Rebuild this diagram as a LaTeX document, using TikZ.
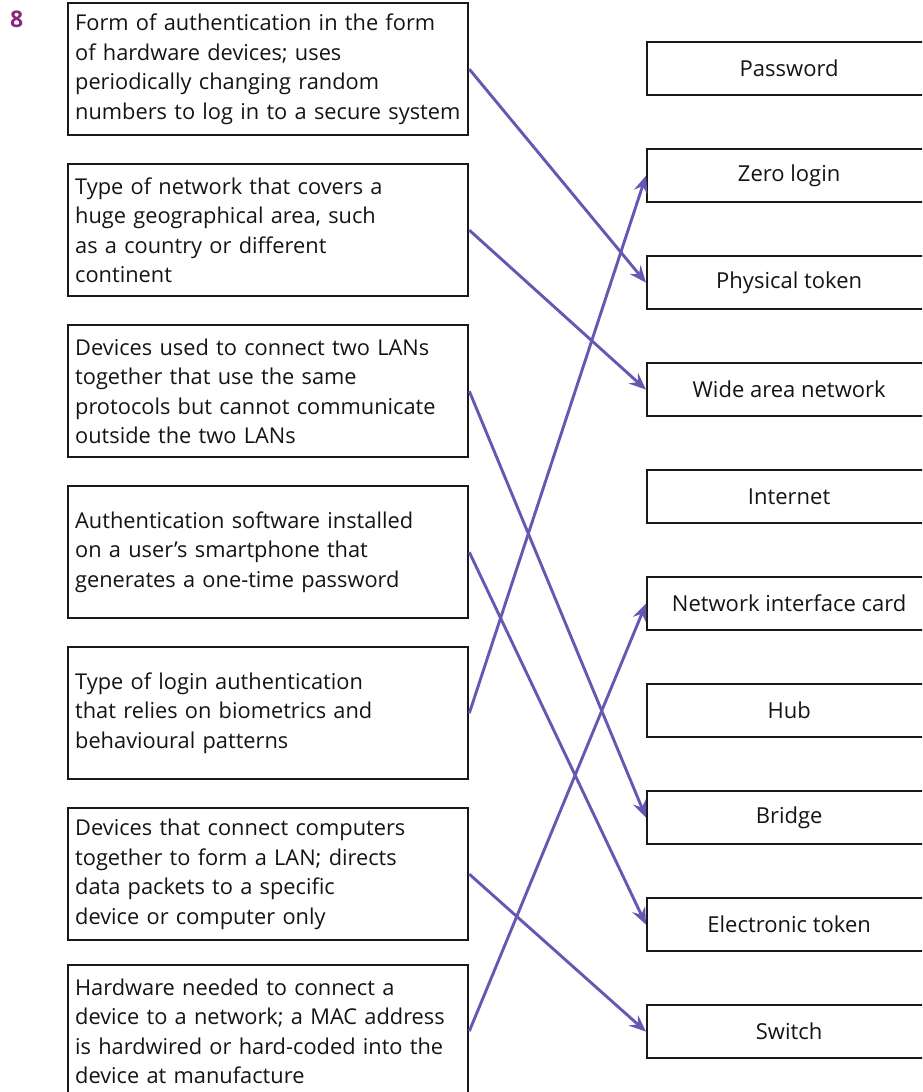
\documentclass[tikz,border=0pt]{standalone}
\usepackage{fontspec}
\setmainfont{Open Sans}
\usetikzlibrary{arrows.meta}
\definecolor{linkblue}{RGB}{104,86,178}
\definecolor{qpurple}{RGB}{138,38,128}
\definecolor{boxline}{RGB}{25,25,25}
\newcommand\nobreakwords{\hyphenpenalty=10000\relax\exhyphenpenalty=10000\relax}
\tikzset{
  clue/.style={draw=boxline, line width=2.3pt, text width=386pt, inner xsep=7pt, inner ysep=0pt,
    minimum height=132pt, align=left, anchor=north west,
    font=\fontsize{21.8}{29.5}\selectfont\nobreakwords, text=black!92},
  term/.style={draw=boxline, line width=2.3pt, minimum width=284pt, minimum height=53pt,
    inner sep=0pt, anchor=north west, font=\fontsize{22}{29.5}\selectfont, text=black!92},
  link/.style={draw=linkblue, line width=2.9pt, -{Stealth[length=17pt, width=14pt, inset=6pt]}},
}
\begin{document}
\begin{tikzpicture}[x=1pt, y=-1pt]
\useasboundingbox (0,0) rectangle (922,1092);
\clip (0,0) rectangle (922,1092);

% question number
\node[anchor=north west, inner sep=0pt, text=qpurple, font=\fontsize{23}{24}\selectfont\bfseries] (qnum) at (10,11) {8};

% descriptions (left column)
\node[clue] (c1) at (67,2)   {Form of authentication in the form\\of hardware devices; uses\\periodically changing random\\numbers to log in to a secure system};
\node[clue] (c2) at (67,163) {Type of network that covers a\\huge geographical area, such\\as a country or different\\continent};
\node[clue] (c3) at (67,324) {Devices used to connect two LANs\\together that use the same\\protocols but cannot communicate\\outside the two LANs};
\node[clue] (c4) at (67,485) {Authentication software installed\\on a user’s smartphone that\\generates a one-time password};
\node[clue] (c5) at (67,646) {Type of login authentication\\that relies on biometrics and\\behavioural patterns};
\node[clue] (c6) at (67,807) {Devices that connect computers\\together to form a LAN; directs\\data packets to a specific\\device or computer only};
\node[clue] (c7) at (67,964) {Hardware needed to connect a\\device to a network; a MAC address\\is hardwired or hard-coded into the\\device at manufacture};

% terms (right column)
\node[term] (t1)  at (646,41)   {Password};
\node[term] (t2)  at (646,148)  {Zero login};
\node[term] (t3)  at (646,255)  {Physical token};
\node[term] (t4)  at (646,362)  {Wide area network};
\node[term] (t5)  at (646,469)  {Internet};
\node[term] (t6)  at (646,576)  {Network interface card};
\node[term] (t7)  at (646,683)  {Hub};
\node[term] (t8)  at (646,790)  {Bridge};
\node[term] (t9)  at (646,897)  {Electronic token};
\node[term] (t10) at (646,1004) {Switch};

% matching arrows
\draw[link] (c1.east) -- (t3.west);
\draw[link] (c2.east) -- (t4.west);
\draw[link] (c3.east) -- (t8.west);
\draw[link] (c4.east) -- (t9.west);
\draw[link] (c5.east) -- (t2.west);
\draw[link] (c6.east) -- (t10.west);
\draw[link] (c7.east) -- (t6.west);
\end{tikzpicture}
\end{document}
